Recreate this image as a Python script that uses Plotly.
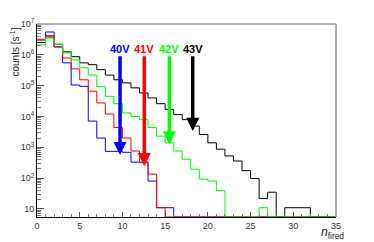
import numpy as np
import plotly.graph_objects as go

# ---- data (counts per n_fired bin, bins 0..34) ----
bin_edges = list(range(0, 36))
counts_40V = [3.0e6, 5.5e6, 1.8e6, 5.5e5, 1.05e5, 9.5e4, 7.1e3, 2.0e3, 740, 740,
              690, 330, 330, 80, 11, 11, 0, 0, 0, 0,
              0, 0, 0, 0, 0, 0, 0, 0, 0, 0, 0, 0, 0, 0, 0]
counts_41V = [3.2e6, 4.2e6, 1.8e6, 7.9e5, 3.5e5, 1.55e5, 6.6e4, 2.75e4, 1.2e4, 4.4e3,
              2.0e3, 760, 320, 135, 11, 0, 0, 0, 0, 0,
              0, 0, 0, 0, 0, 0, 0, 0, 0, 0, 0, 0, 0, 0, 0]
counts_42V = [2.1e6, 3.5e6, 2.2e6, 1.15e6, 6.9e5, 3.8e5, 2.2e5, 9.3e4, 4.5e4, 2.6e4,
              1.3e4, 1.0e4, 7.9e3, 4.4e3, 2.3e3, 1.4e3, 760, 410, 195, 93,
              81, 39, 0, 0, 0, 0, 11, 0, 0, 0, 0, 0, 0, 0, 0]
counts_43V = [2.5e6, 3.8e6, 2.2e6, 1.25e6, 8.7e5, 5.5e5, 4.8e5, 3.3e5, 2.2e5, 1.55e5,
              1.23e5, 8.5e4, 5.8e4, 4.0e4, 2.6e4, 1.7e4, 1.15e4, 7.9e3, 4.9e3, 2.6e3,
              1.4e3, 870, 525, 360, 175, 98, 22, 35, 0, 11, 11, 11, 0, 0, 0]

series_names = ["43V", "40V", "41V", "42V"]
series_colors = ["#000000", "#0000ff", "#ff0000", "#00ff00"]
series_counts = [counts_43V, counts_40V, counts_41V, counts_42V]

# arrows: label, x position, tip value, colour
arrow_labels = ["40V", "41V", "42V", "43V"]
arrow_x = [9.72, 12.56, 15.5, 18.23]
arrow_tip = [560, 245, 1250, 3400]
arrow_top = 1.0e6
arrow_colors = ["#0000ff", "#ff0000", "#00ff00", "#000000"]

y_tick_vals = [10, 1e2, 1e3, 1e4, 1e5, 1e6, 1e7]
y_tick_text = ["10", "10<sup>2</sup>", "10<sup>3</sup>", "10<sup>4</sup>",
               "10<sup>5</sup>", "10<sup>6</sup>", "10<sup>7</sup>"]

y_log_range = [0.74, 7.0]
floor_val = 10 ** y_log_range[0]

fig = go.Figure()
for name, col, cnt in zip(series_names, series_colors, series_counts):
    yv = [c if c > 0 else floor_val for c in cnt]
    yv = yv + [yv[-1]]
    fig.add_trace(go.Scatter(x=bin_edges, y=yv, mode="lines", line_shape="hv",
                             line=dict(color=col, width=1), name=name,
                             showlegend=False, hoverinfo="skip"))

for lab, ax_, tip, col in zip(arrow_labels, arrow_x, arrow_tip, arrow_colors):
    fig.add_annotation(x=ax_, y=np.log10(tip), ax=ax_, ay=np.log10(arrow_top),
                       xref="x", yref="y", axref="x", ayref="y",
                       showarrow=True, arrowhead=2, arrowsize=0.75,
                       arrowwidth=3.5, arrowcolor=col, text="")
    fig.add_annotation(x=ax_, y=np.log10(arrow_top), xref="x", yref="y",
                       text="<b>" + lab + "</b>", showarrow=False,
                       yanchor="bottom", yshift=-2,
                       font=dict(color=col, size=11, family="Liberation Sans"))

fig.add_annotation(xref="paper", yref="paper", x=0, y=1.0, xshift=-23, yshift=-2,
                   xanchor="center", yanchor="top", textangle=-90, showarrow=False,
                   text="counts [s<sup>-1</sup>]",
                   font=dict(size=10, family="Liberation Sans", color="#222"))
fig.add_annotation(xref="paper", yref="paper", x=1.0, y=0, xshift=-4, yshift=-6,
                   xanchor="center", yanchor="top", showarrow=False,
                   text="<i>n</i><sub>fired</sub>",
                   font=dict(size=12, family="Liberation Sans", color="#222"))

fig.add_shape(type="line", xref="paper", yref="paper", x0=0, y0=1, x1=1, y1=1,
              line=dict(color="#999999", width=1.5))
fig.add_shape(type="line", xref="paper", yref="paper", x0=1, y0=0, x1=1, y1=1,
              line=dict(color="#999999", width=1.5))

fig.update_xaxes(range=[0, 35], tickmode="linear", tick0=0, dtick=5,
                 ticks="inside", ticklen=5, tickcolor="#555",
                 showline=True, linecolor="#000", linewidth=1,
                 showgrid=False, zeroline=False, automargin=False,
                 tickfont=dict(size=9, family="Liberation Sans", color="#333"),
                 minor=dict(dtick=1, ticks="inside", ticklen=3, tickcolor="#777"))
fig.update_yaxes(type="log", range=y_log_range, tickmode="array",
                 tickvals=y_tick_vals, ticktext=y_tick_text,
                 ticks="inside", ticklen=7, tickcolor="#555",
                 showline=True, linecolor="#000", linewidth=1,
                 showgrid=False, zeroline=False, automargin=False,
                 tickfont=dict(size=9, family="Liberation Sans", color="#333"),
                 minor=dict(dtick="D1", ticks="inside", ticklen=4, tickcolor="#777",
                            showgrid=False))

# the page body adds an 8px margin, so the figure is 8px smaller and margins shifted
fig.update_layout(width=366, height=234, margin=dict(l=29, r=38, t=16, b=25),
                  plot_bgcolor="white", paper_bgcolor="white")

fig.write_html("out.html")
